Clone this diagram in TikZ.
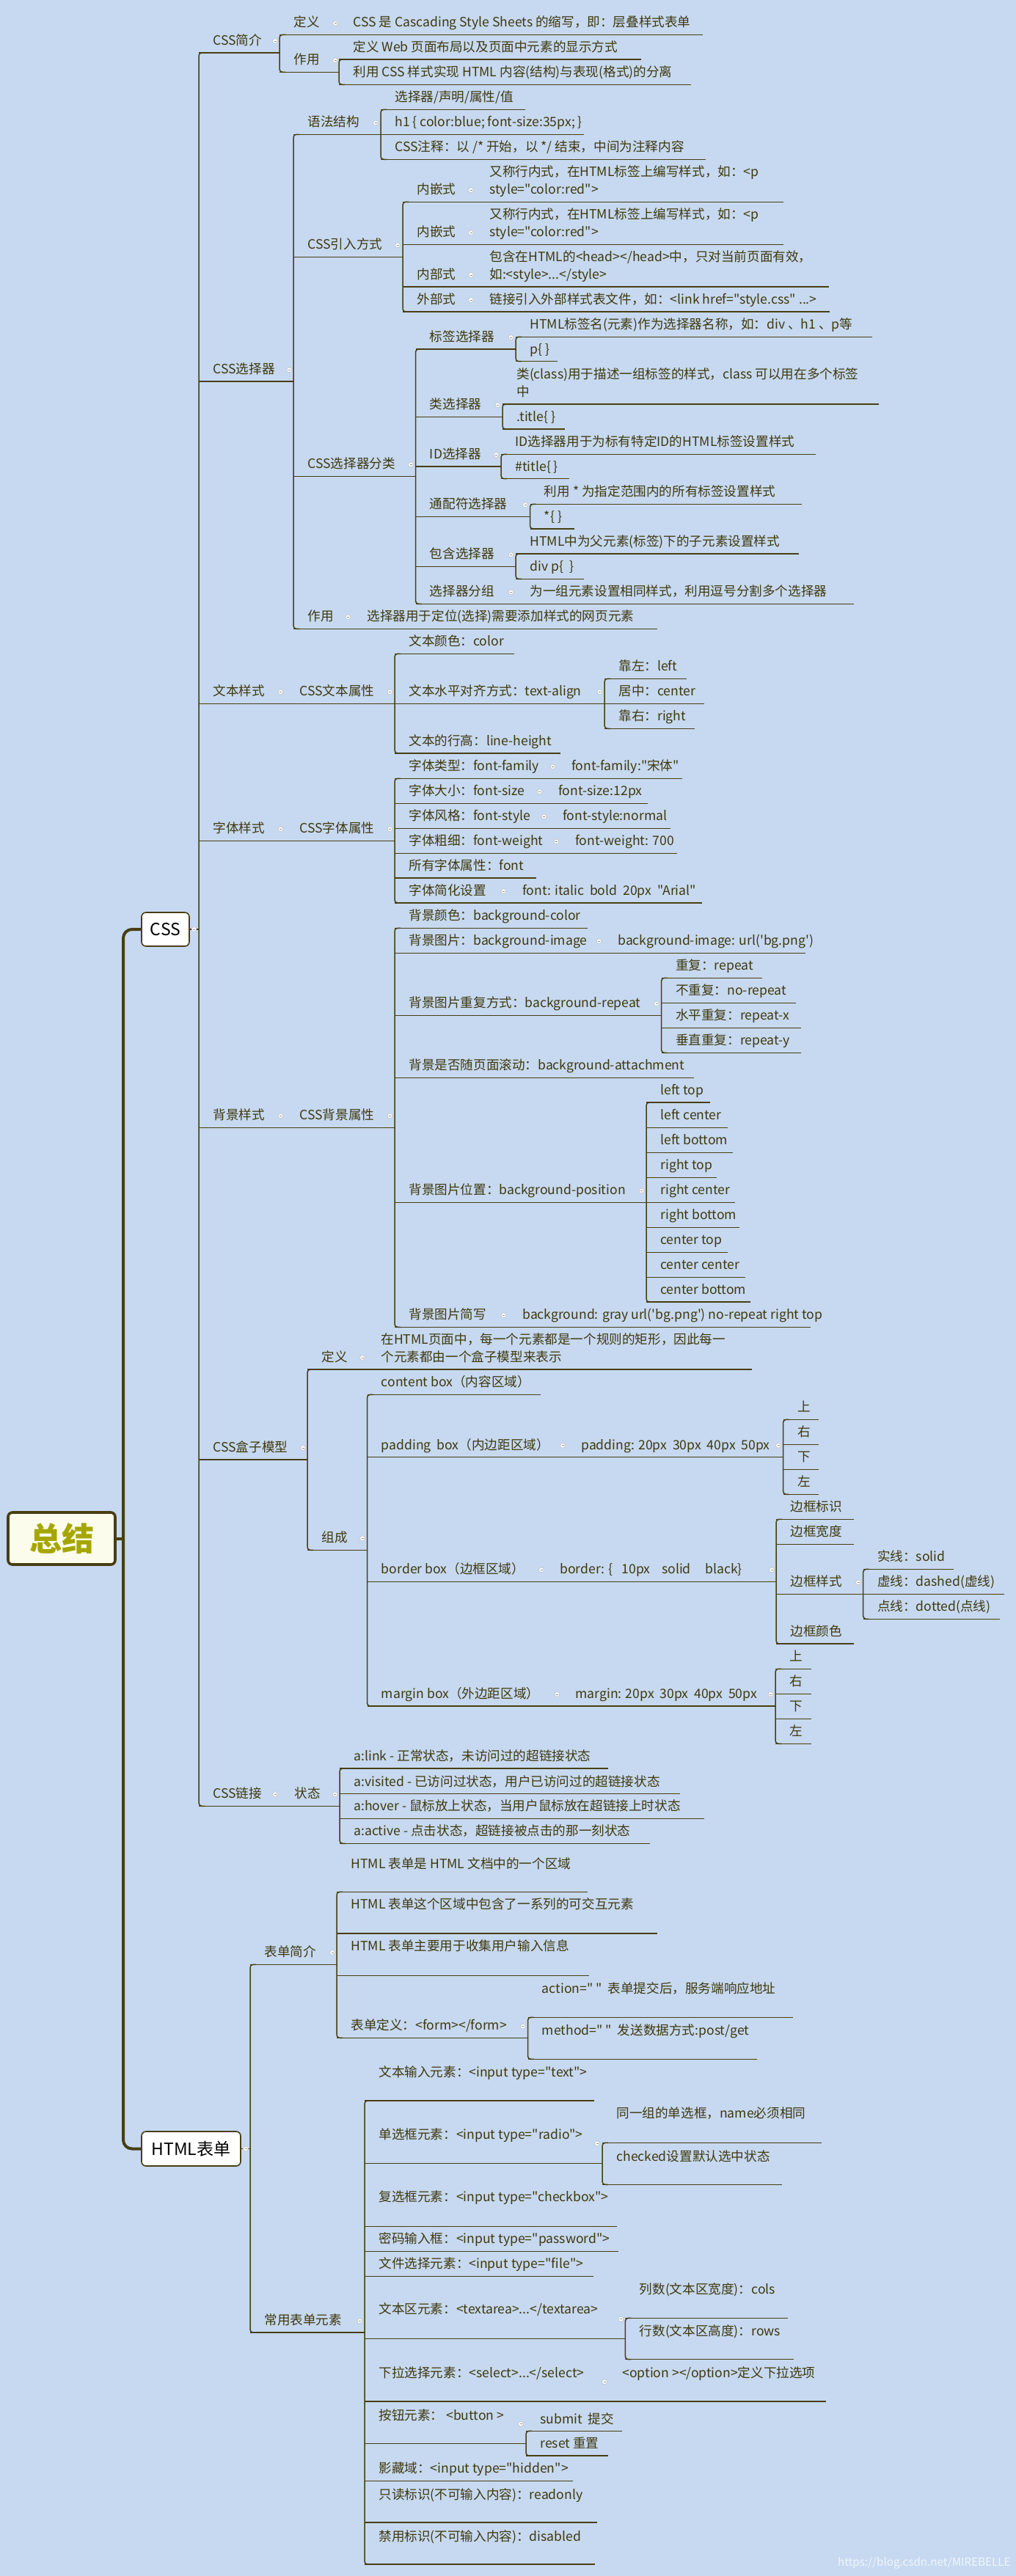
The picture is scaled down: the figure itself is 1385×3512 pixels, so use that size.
\documentclass[tikz,border=0pt]{standalone}
\usepackage{fontspec}
\newfontfamily\mmfont{Noto Sans CJK SC}
\definecolor{bgblue}{RGB}{198,217,240}
\definecolor{ink}{RGB}{64,56,14}
\definecolor{linec}{RGB}{72,62,18}
\definecolor{rootyel}{RGB}{166,166,0}
\definecolor{rootfill}{RGB}{252,252,236}

% topic: name, x start, x end, underline y, text
\newcommand\mmtopic[5]{%
  \coordinate (#1-a) at (#2,#4);
  \coordinate (#1-b) at (#3,#4);
  \node[tp] (#1) at (#2+19,#4-10.5) {#5};
  \draw[ln] (#1-a) -- (#1-b);}
% topic with its own baseline: name, x start, x end, underline y, baseline y, text
\newcommand\mmtall[6]{%
  \coordinate (#1-a) at (#2,#4);
  \coordinate (#1-b) at (#3,#4);
  \node[tp] (#1) at (#2+19,#5) {#6};
  \draw[ln] (#1-a) -- (#1-b);}
% two-line topic
\newcommand\mmtwo[6]{%
  \coordinate (#1-a) at (#2,#4);
  \coordinate (#1-b) at (#3,#4);
  \node[tp] (#1) at (#2+19,#4-34.5) {#5};
  \node[tp] (#1x) at (#2+19,#4-10.5) {#6};
  \draw[ln] (#1-a) -- (#1-b);}
% bracket joining first and last child
\newcommand\mmbrace[2]{\draw[ln,rounded corners=2pt] ([xshift=4pt]#1-a) -- (#1-a) -- (#2-a) -- ([xshift=4pt]#2-a);}
% collapse knob
\newcommand\mmknob[2]{\filldraw[knob] (#1,#2) circle (1.7pt); \draw[knobbar] (#1-1.5,#2) -- (#1+1.5,#2);}

\begin{document}
\begin{tikzpicture}[x=0.5pt,y=-0.5pt,
  tp/.style={anchor=base west,inner sep=0pt,text=ink,font=\mmfont\fontsize{8.8pt}{10pt}\selectfont},
  ln/.style={draw=linec,line width=0.75pt},
  trunk/.style={draw=linec,line width=2pt},
  knob/.style={fill=white,draw=black!25,line width=0.3pt},
  knobbar/.style={draw=black!45,line width=0.4pt},
  mainbox/.style={draw=linec,line width=0.8pt,fill=white,rounded corners=3pt,text=black,font=\mmfont\fontsize{11.5pt}{12pt}\selectfont},
  rootbox/.style={draw=linec,line width=1.8pt,fill=rootfill,rounded corners=3pt,text=rootyel,font=\mmfont\fontsize{22pt}{24pt}\selectfont\bfseries}]
\fill[bgblue] (0,0) rectangle (1385,3512);
\useasboundingbox (0,0) rectangle (1385,3512);

% root and the two main boxes
\node[rootbox,minimum width=73pt,minimum height=35.5pt] (root) at (84,2097.5) {总结};
\node[mainbox,minimum width=32.5pt,minimum height=23pt] (css) at (225.5,1267) {CSS};
\node[mainbox,minimum width=67.5pt,minimum height=23.5pt] (html) at (260.5,2929.5) {HTML表单};
\coordinate (rj) at (168,2097.5);
\draw[trunk] (root.east) -- (rj);
\draw[trunk,rounded corners=6pt] (css.west) -| (rj) |- (html.west);
\coordinate (cssj) at (271,1267);
\coordinate (htmj) at (341,2929.5);
\draw[ln] (css.east) -- (cssj);
\draw[ln] (html.east) -- (htmj);
\mmknob{264.5}{1267}
\mmknob{335}{2929.5}

% CSS简介
\mmtopic{css1}{271}{381}{72}{CSS简介}
\mmtopic{css1a}{381}{462}{47.3}{定义}
\mmtopic{css1a1}{462}{958}{47.3}{CSS 是 Cascading Style Sheets 的缩写，即：层叠样式表单}
\mmtopic{css1b}{381}{462}{98.3}{作用}
\mmtopic{css1b1}{462}{874}{81}{定义 Web 页面布局以及页面中元素的显示方式}
\mmtopic{css1b2}{462}{942}{115.3}{利用 CSS 样式实现 HTML 内容(结构)与表现(格式)的分离}
\mmbrace{css1a}{css1b}
\mmbrace{css1b1}{css1b2}
\mmknob{375}{56}
\mmknob{457}{31.7}
\mmknob{457}{82.3}

% CSS选择器
\mmtopic{css2}{271}{400}{520}{CSS选择器}
\mmtopic{css2a}{400}{519}{183.3}{语法结构}
\mmtopic{css2a1}{519}{716}{149.3}{选择器/声明/属性/值}
\mmtopic{css2a2}{519}{796}{183.3}{h1 \{ color:blue; font-size:35px; \}}
\mmtopic{css2a3}{519}{962}{217.3}{CSS注释：以 /* 开始，以 */ 结束，中间为注释内容}
\mmbrace{css2a1}{css2a3}
\mmtopic{css2b}{400}{549}{350.3}{CSS引入方式}
\mmtopic{css2b1}{549}{648}{275.3}{内嵌式}
\mmtwo{css2b1t}{648}{1068}{275.3}{又称行内式，在HTML标签上编写样式，如：<p}{style="color:red">}
\mmtopic{css2b2}{549}{648}{333.3}{内嵌式}
\mmtwo{css2b2t}{648}{1068}{333.3}{又称行内式，在HTML标签上编写样式，如：<p}{style="color:red">}
\mmtopic{css2b3}{549}{648}{391}{内部式}
\mmtwo{css2b3t}{648}{1130}{391}{包含在HTML的<head></head>中，只对当前页面有效，}{如:<style>...</style>}
\mmtopic{css2b4}{549}{648}{425}{外部式}
\mmtopic{css2b4t}{648}{1131}{425}{链接引入外部样式表文件，如：<link href="style.css" ...>}
\mmbrace{css2b1}{css2b4}
\mmtopic{css2c}{400}{566.5}{649.3}{CSS选择器分类}
\mmtopic{css2c1}{566.5}{703}{476}{标签选择器}
\mmtopic{css2c1a}{703}{1189}{459.3}{HTML标签名(元素)作为选择器名称，如：div 、h1 、p等}
\mmtopic{css2c1b}{703}{760}{492.7}{p\{ \}}
\mmbrace{css2c1a}{css2c1b}
\mmtopic{css2c2}{566.5}{685}{568.3}{类选择器}
\mmtwo{css2c2a}{685}{1198}{551}{类(class)用于描述一组标签的样式，class 可以用在多个标签}{中}
\mmtopic{css2c2b}{685}{770}{585}{.title\{ \}}
\mmbrace{css2c2a}{css2c2b}
\mmtopic{css2c3}{566.5}{683}{636}{ID选择器}
\mmtopic{css2c3a}{683}{1112}{619.3}{ID选择器用于为标有特定ID的HTML标签设置样式}
\mmtopic{css2c3b}{683}{776}{652.7}{\#title\{ \}}
\mmbrace{css2c3a}{css2c3b}
\mmtopic{css2c4}{566.5}{722.5}{704.3}{通配符选择器}
\mmtopic{css2c4a}{722.5}{1093}{687.3}{利用 * 为指定范围内的所有标签设置样式}
\mmtopic{css2c4b}{722.5}{782.5}{721}{*\{ \}}
\mmbrace{css2c4a}{css2c4b}
\mmtopic{css2c5}{566.5}{703}{772.3}{包含选择器}
\mmtopic{css2c5a}{703}{1089}{755}{HTML中为父元素(标签)下的子元素设置样式}
\mmtopic{css2c5b}{703}{795.5}{789.3}{div p\{~~\}}
\mmbrace{css2c5a}{css2c5b}
\mmtopic{css2c6}{566.5}{703}{823.3}{选择器分组}
\mmtopic{css2c6a}{703}{1164}{823.3}{为一组元素设置相同样式，利用逗号分割多个选择器}
\mmbrace{css2c1}{css2c6}
\mmtopic{css2d}{400}{481}{857.3}{作用}
\mmtopic{css2d1}{481}{896}{857.3}{选择器用于定位(选择)需要添加样式的网页元素}
\mmbrace{css2a}{css2d}
\mmknob{394.4}{504.3}
\mmknob{512}{167.3}
\mmknob{542}{334.3}
\mmknob{642}{259.3}
\mmknob{642}{317.3}
\mmknob{642}{375}
\mmknob{642}{409}
\mmknob{560}{633.3}
\mmknob{696.5}{460}
\mmknob{678.5}{552.3}
\mmknob{676.5}{620}
\mmknob{716}{688.3}
\mmknob{696.5}{756.3}
\mmknob{696.5}{807.3}
\mmknob{474.5}{841.3}

% 文本样式
\mmtopic{css3}{271}{389}{959.3}{文本样式}
\mmtopic{css3a}{389}{538}{959.3}{CSS文本属性}
\mmtopic{css3a1}{538}{701}{891.3}{文本颜色：color}
\mmtopic{css3a2}{538}{824}{959.3}{文本水平对齐方式：text-align}
\mmtopic{css3a2a}{824}{935.5}{925.3}{靠左：left}
\mmtopic{css3a2b}{824}{960}{959.3}{居中：center}
\mmtopic{css3a2c}{824}{947}{993.3}{靠右：right}
\mmbrace{css3a2a}{css3a2c}
\mmtopic{css3a3}{538}{764}{1027}{文本的行高：line-height}
\mmbrace{css3a1}{css3a3}
\mmknob{382.5}{943.3}
\mmknob{531.5}{943.3}
\mmknob{817.5}{943.3}

% 字体样式
\mmtopic{css4}{271}{389}{1146.3}{字体样式}
\mmtopic{css4a}{389}{538}{1146.3}{CSS字体属性}
\mmtopic{css4a1}{538}{760}{1061.3}{字体类型：font-family}
\mmtopic{css4a1x}{760}{930}{1061.3}{font-family:"宋体"}
\mmtopic{css4a2}{538}{742}{1095.3}{字体大小：font-size}
\mmtopic{css4a2x}{742}{883}{1095.3}{font-size:12px}
\mmtopic{css4a3}{538}{748}{1129.3}{字体风格：font-style}
\mmtopic{css4a3x}{748}{914}{1129.3}{font-style:normal}
\mmtopic{css4a4}{538}{765}{1163.3}{字体粗细：font-weight}
\mmtopic{css4a4x}{765}{923}{1163.3}{font-weight: 700}
\mmtopic{css4a5}{538}{731}{1197}{所有字体属性：font}
\mmtopic{css4a6}{538}{693}{1231}{字体简化设置}
\mmtopic{css4a6x}{693}{957}{1231}{font: italic~~bold~~20px~~"Arial"}
\mmbrace{css4a1}{css4a6}
\mmknob{382.5}{1130.3}
\mmknob{531.5}{1130.3}
\mmknob{753.5}{1045.3}
\mmknob{735.5}{1079.3}
\mmknob{741.5}{1113.3}
\mmknob{758.5}{1147.3}
\mmknob{686.5}{1215}

% 背景样式
\mmtopic{css5}{271}{389}{1537.3}{背景样式}
\mmtopic{css5a}{389}{538}{1537.3}{CSS背景属性}
\mmtopic{css5a1}{538}{801}{1265.3}{背景颜色：background-color}
\mmtopic{css5a2}{538}{823}{1299.3}{背景图片：background-image}
\mmtopic{css5a2x}{823}{1098}{1299.3}{background-image: url('bg.png')}
\mmtopic{css5a3}{538}{901.6}{1384.3}{背景图片重复方式：background-repeat}
\mmtopic{css5a3a}{901.6}{1039}{1333.3}{重复：repeat}
\mmtopic{css5a3b}{901.6}{1084.5}{1367.3}{不重复：no-repeat}
\mmtopic{css5a3c}{901.6}{1092}{1401.3}{水平重复：repeat-x}
\mmtopic{css5a3d}{901.6}{1092}{1435.3}{垂直重复：repeat-y}
\mmbrace{css5a3a}{css5a3d}
\mmtopic{css5a4}{538}{946}{1469.3}{背景是否随页面滚动：background-attachment}
\mmtopic{css5a5}{538}{881}{1639.3}{背景图片位置：background-position}
\mmtopic{css5a5a}{881}{968}{1503}{left top}
\mmtopic{css5a5b}{881}{992}{1537.3}{left center}
\mmtopic{css5a5c}{881}{998.5}{1571.3}{left bottom}
\mmtopic{css5a5d}{881}{977}{1605.3}{right top}
\mmtopic{css5a5e}{881}{1002}{1639.3}{right center}
\mmtopic{css5a5f}{881}{1008}{1673.3}{right bottom}
\mmtopic{css5a5g}{881}{992}{1707.3}{center top}
\mmtopic{css5a5h}{881}{1016}{1741.3}{center center}
\mmtopic{css5a5i}{881}{1023}{1775}{center bottom}
\mmbrace{css5a5a}{css5a5i}
\mmtopic{css5a6}{538}{693}{1809.3}{背景图片简写}
\mmtopic{css5a6x}{693}{1104.5}{1809.3}{background: gray url('bg.png') no-repeat right top}
\mmbrace{css5a1}{css5a6}
\mmknob{382.5}{1521.3}
\mmknob{531.5}{1521.3}
\mmknob{816.5}{1283.3}
\mmknob{895}{1368.3}
\mmknob{874.5}{1623.3}
\mmknob{686.5}{1793.3}

% CSS盒子模型
\mmtopic{css6}{271}{419}{1990}{CSS盒子模型}
\mmtopic{css6a}{419}{500}{1867}{定义}
\mmtwo{css6ax}{500}{1025}{1867}{在HTML页面中，每一个元素都是一个规则的矩形，因此每一}{个元素都由一个盒子模型来表示}
\mmtopic{css6b}{419}{500.5}{2113.3}{组成}
\mmtopic{css6b1}{500.5}{737}{1901.3}{content box（内容区域）}
\mmtopic{css6b2}{500.5}{773}{1986.7}{padding~~box（内边距区域）}
\mmtopic{css6b2x}{773}{1067.6}{1986.7}{padding: 20px~~30px~~40px~~50px}
\mmtopic{css6b2a}{1067.6}{1116}{1935.3}{上}
\mmtopic{css6b2b}{1067.6}{1116}{1969.3}{右}
\mmtopic{css6b2c}{1067.6}{1116}{2003.3}{下}
\mmtopic{css6b2d}{1067.6}{1116}{2037.3}{左}
\mmbrace{css6b2a}{css6b2d}
\mmtopic{css6b3}{500.5}{744}{2156.3}{border box（边框区域）}
\mmtopic{css6b3x}{744}{1058}{2156.3}{border: \{~~~10px~~~~solid~~~~~black\}}
\mmtopic{css6b3a}{1058}{1163.6}{2071.3}{边框标识}
\mmtopic{css6b3b}{1058}{1163.6}{2105.3}{边框宽度}
\mmtopic{css6b3c}{1058}{1176.7}{2173.3}{边框样式}
\mmtopic{css6b3c1}{1176.7}{1300}{2139.3}{实线：solid}
\mmtopic{css6b3c2}{1176.7}{1369}{2173.3}{虚线：dashed(虚线)}
\mmtopic{css6b3c3}{1176.7}{1363}{2207.3}{点线：dotted(点线)}
\mmbrace{css6b3c1}{css6b3c3}
\mmtopic{css6b3d}{1058}{1163.6}{2241}{边框颜色}
\mmbrace{css6b3a}{css6b3d}
\mmtopic{css6b4}{500.5}{765}{2326}{margin box（外边距区域）}
\mmtopic{css6b4x}{765}{1057}{2326}{margin: 20px~~30px~~40px~~50px}
\mmtopic{css6b4a}{1057}{1106}{2275.3}{上}
\mmtopic{css6b4b}{1057}{1106}{2309.3}{右}
\mmtopic{css6b4c}{1057}{1106}{2343.3}{下}
\mmtopic{css6b4d}{1057}{1106}{2377.3}{左}
\mmbrace{css6b4a}{css6b4d}
\mmbrace{css6b1}{css6b4}
\mmbrace{css6a}{css6b}
\mmknob{413}{1974}
\mmknob{494}{1851}
\mmknob{494}{2097.3}
\mmknob{767}{1970.7}
\mmknob{1061}{1970.7}
\mmknob{738}{2140.3}
\mmknob{1052}{2140.3}
\mmknob{1170}{2157.3}
\mmknob{759.5}{2310}
\mmknob{1050.5}{2310}

% CSS链接
\mmtopic{css7}{271}{382}{2462.3}{CSS链接}
\mmtopic{css7a}{382}{463}{2462.3}{状态}
\mmtopic{css7a1}{463}{829}{2411}{a:link - 正常状态，未访问过的超链接状态}
\mmtopic{css7a2}{463}{927}{2445.7}{a:visited - 已访问过状态，用户已访问过的超链接状态}
\mmtopic{css7a3}{463}{960}{2479.3}{a:hover - 鼠标放上状态，当用户鼠标放在超链接上时状态}
\mmtopic{css7a4}{463}{885.5}{2513.3}{a:active - 点击状态，超链接被点击的那一刻状态}
\mmbrace{css7a1}{css7a4}
\mmbrace{css1}{css7}
\mmknob{375}{2446.3}
\mmknob{456.6}{2446.3}

% HTML表单
\mmtopic{htm1}{341}{459}{2678.3}{表单简介}
\mmtall{htm1a}{459}{801}{2579.3}{2547}{HTML 表单是 HTML 文档中的一个区域}
\mmtall{htm1b}{459}{896}{2636}{2602}{HTML 表单这个区域中包含了一系列的可交互元素}
\mmtall{htm1c}{459}{802.5}{2693.3}{2659}{HTML 表单主要用于收集用户输入信息}
\mmtopic{htm1d}{459}{719.5}{2778.3}{表单定义：<form></form>}
\mmtall{htm1d1}{719.5}{1081}{2750.3}{2717}{action="~"~~表单提交后，服务端响应地址}
\mmtall{htm1d2}{719.5}{1031.5}{2807.3}{2774}{method="~"~~发送数据方式:post/get}
\mmbrace{htm1d1}{htm1d2}
\mmbrace{htm1a}{htm1d}
\mmtopic{htm2}{341}{497}{3180}{常用表单元素}
\mmtall{htm2a}{497}{810}{2864}{2831}{文本输入元素：<input type="text">}
\mmtall{htm2b}{497}{821}{2949.3}{2916}{单选框元素：<input type="radio">}
\mmtall{htm2b1}{821}{1120}{2921.3}{2887}{同一组的单选框，name必须相同}
\mmtall{htm2b2}{821}{1066}{2978.3}{2946}{checked设置默认选中状态}
\mmbrace{htm2b1}{htm2b2}
\mmtall{htm2c}{497}{841}{3035.3}{3001}{复选框元素：<input type="checkbox">}
\mmtopic{htm2d}{497}{843}{3069.3}{密码输入框：<input type="password">}
\mmtopic{htm2e}{497}{808.6}{3103.3}{文件选择元素：<input type="file">}
\mmtall{htm2f}{497}{852.4}{3188.3}{3154}{文本区元素：<textarea>...</textarea>}
\mmtall{htm2f1}{852.4}{1073.7}{3160.3}{3127}{列数(文本区宽度)：cols}
\mmtall{htm2f2}{852.4}{1082}{3216.7}{3184}{行数(文本区高度)：rows}
\mmbrace{htm2f1}{htm2f2}
\mmtall{htm2g}{497}{829}{3274}{3241}{下拉选择元素：<select>...</select>}
\mmtall{htm2gx}{829}{1126}{3274}{3241}{<option ></option>定义下拉选项}
\mmtall{htm2h}{497}{717}{3331.3}{3299}{按钮元素：~<button~>}
\mmtall{htm2h1}{717}{848}{3314.3}{3304}{submit~~提交}
\mmtopic{htm2h2}{717}{828.6}{3348}{reset 重置}
\mmbrace{htm2h1}{htm2h2}
\mmtopic{htm2i}{497}{781}{3382.3}{影藏域：<input type="hidden">}
\mmtall{htm2j}{497}{813.5}{3439}{3407}{只读标识(不可输入内容)：readonly}
\mmtall{htm2k}{497}{811}{3496}{3464}{禁用标识(不可输入内容)：disabled}
\mmbrace{htm2a}{htm2k}
\mmbrace{htm1}{htm2}
\mmknob{453}{2662}
\mmknob{712.6}{2762.7}
\mmknob{490.5}{3164.3}
\mmknob{814}{2922.3}
\mmknob{846.3}{3161.7}
\mmknob{824}{3247.3}
\mmknob{710}{3304.7}

\node[anchor=base east,inner sep=0pt,text=white,opacity=0.75,font=\mmfont\fontsize{7.6pt}{9pt}\selectfont] (wm) at (1378,3498) {https://blog.csdn.net/MIREBELLE};
\end{tikzpicture}
\end{document}
